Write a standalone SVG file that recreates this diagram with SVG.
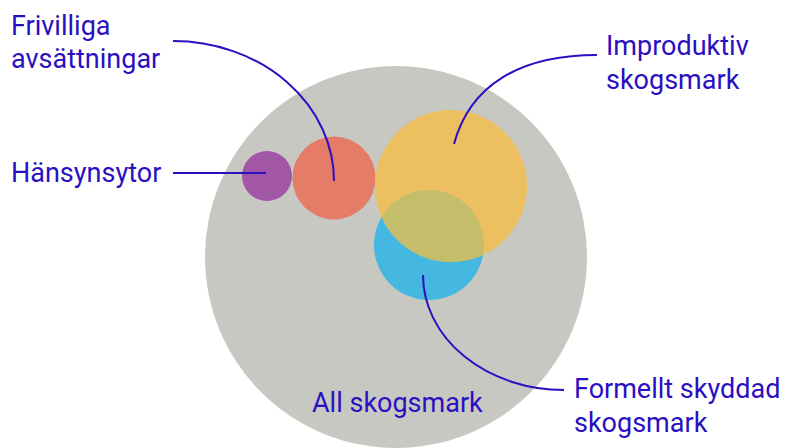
<svg xmlns="http://www.w3.org/2000/svg" width="787" height="448" viewBox="0 0 787 448">
<style>
.lbl{font-family:Roboto,"Liberation Sans",sans-serif;font-size:27px;fill:#2a10c2}
.lead{fill:none;stroke:#2a10c2;stroke-width:2}
</style>
<defs>
<clipPath id="clipY"><circle cx="451" cy="186" r="76"/></clipPath>
</defs>
<rect width="787" height="448" fill="#ffffff"/>
<g id="all-skogsmark">
<circle cx="396" cy="257" r="191" fill="#c8c8c2"/>
<text class="lbl" x="312" y="412">All skogsmark</text>
</g>
<g id="hansynsytor">
<circle cx="267" cy="176" r="25" fill="#a256a6"/>
<text class="lbl" x="11" y="182">Hänsynsytor</text>
</g>
<g id="frivilliga">
<circle cx="334" cy="178" r="41.5" fill="#e57c68"/>
<text class="lbl" x="11" y="35">Frivilliga</text>
<text class="lbl" x="11" y="68">avsättningar</text>
</g>
<g id="formellt">
<circle cx="429" cy="245" r="55" fill="#44b8e0"/>
<text class="lbl" x="574" y="398">Formellt skyddad</text>
<text class="lbl" x="574" y="432">skogsmark</text>
</g>
<g id="improduktiv">
<circle cx="451" cy="186" r="76" fill="#ecc060"/>
<circle cx="429" cy="245" r="55" fill="#c4bd6a" clip-path="url(#clipY)"/>
<text class="lbl" x="606" y="55">Improduktiv</text>
<text class="lbl" x="606" y="89">skogsmark</text>
</g>
<g id="connectors">
<path class="lead" d="M173,173 H266"/>
<path class="lead" d="M173,41 A161,140 0 0 1 334,181"/>
<path class="lead" d="M597,55 C520,55 470,85 454,144"/>
<path class="lead" d="M423,275 A141,115 0 0 0 564,390"/>
</g>
</svg>
